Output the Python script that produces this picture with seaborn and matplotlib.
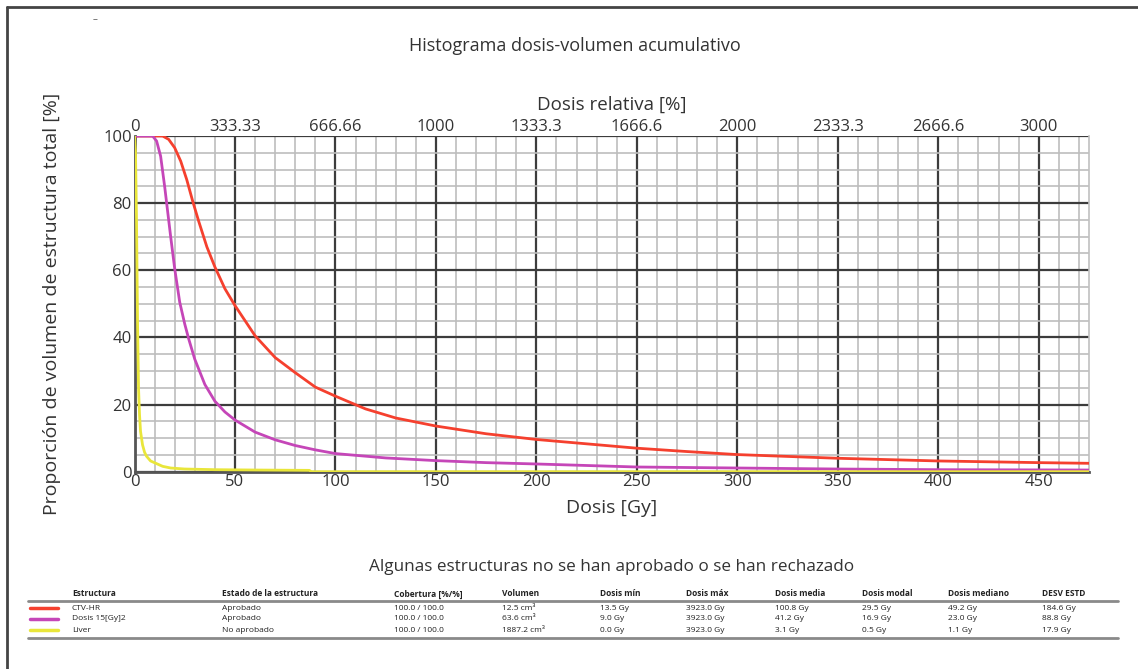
import matplotlib
matplotlib.use("Agg")
from matplotlib import pyplot as plt
from matplotlib.lines import Line2D
import numpy as np
import pandas as pd
import seaborn as sns

# --- curve data (dose in Gy, volume in %) ---
ctv_dose = [0, 14, 17, 20, 23, 26, 29, 32, 36, 40, 45, 50, 55, 60, 70, 80, 90, 100,
            115, 130, 150, 175, 200, 225, 250, 275, 300, 350, 400, 450, 475]
ctv_vol = [100, 100, 99, 96.5, 92.5, 87, 80.5, 74.5, 67, 61, 54.5, 49.5, 45, 40.5, 34,
           29.5, 25.2, 22.5, 18.7, 16, 13.6, 11.3, 9.6, 8.3, 7.0, 6.0, 5.1, 4.0, 3.2, 2.7, 2.5]

dosis_dose = [0, 9, 11, 13, 15, 16, 18, 20, 22.5, 25, 27, 30, 35, 40, 45, 50, 60, 70, 80,
              90, 100, 125, 150, 175, 200, 250, 300, 350, 400, 475]
dosis_vol = [100, 100, 98.5, 94, 85, 80, 70, 60.5, 50.5, 44, 39.5, 33.5, 26, 21, 17.8,
             15.4, 11.8, 9.5, 7.8, 6.5, 5.4, 4.1, 3.3, 2.7, 2.3, 1.4, 1.1, 0.8, 0.6, 0.5]

liver_dose = [0, 0.5, 1, 1.5, 2, 2.5, 3, 4, 5, 6, 8, 11, 14, 18, 25, 40, 60, 87, 88, 475]
liver_vol = [100, 95, 75, 45, 25, 17, 12, 8, 5.8, 4.6, 3.2, 2.4, 1.6, 1.1, 0.8, 0.6,
             0.5, 0.4, 0, 0]

structures = ["CTV-HR", "Dosis 15[Gy]2", "Liver"]
colors = ["#f5402e", "#c546b8", "#e9e63a"]

top_ticks = [0, 333.33, 666.66, 1000, 1333.3, 1666.6, 2000, 2333.3, 2666.6, 3000]
top_labels = ["0", "333.33", "666.66", "1000", "1333.3", "1666.6", "2000", "2333.3",
              "2666.6", "3000"]
ref_dose = 15.0  # Gy that equals 100 %

table_header = ["Estructura", "Estado de la estructura", "Cobertura [%/%]", "Volumen",
                "Dosis mín", "Dosis máx", "Dosis media", "Dosis modal", "Dosis mediano",
                "DESV ESTD"]
table_rows = [
    ["CTV-HR", "Aprobado", "100.0 / 100.0", "12.5 cm³", "13.5 Gy", "3923.0 Gy",
     "100.8 Gy", "29.5 Gy", "49.2 Gy", "184.6 Gy"],
    ["Dosis 15[Gy]2", "Aprobado", "100.0 / 100.0", "63.6 cm³", "9.0 Gy", "3923.0 Gy",
     "41.2 Gy", "16.9 Gy", "23.0 Gy", "88.8 Gy"],
    ["Liver", "No aprobado", "100.0 / 100.0", "1887.2 cm³", "0.0 Gy", "3923.0 Gy",
     "3.1 Gy", "0.5 Gy", "1.1 Gy", "17.9 Gy"],
]

sns.set_theme(style="white")
plt.rcParams["font.family"] = ["Open Sans", "DejaVu Sans"]

df = pd.concat([
    pd.DataFrame({"dose": ctv_dose, "vol": ctv_vol, "s": structures[0]}),
    pd.DataFrame({"dose": dosis_dose, "vol": dosis_vol, "s": structures[1]}),
    pd.DataFrame({"dose": liver_dose, "vol": liver_vol, "s": structures[2]}),
])

W, H = 1138, 669
fig = plt.figure(figsize=(W / 100, H / 100), dpi=100)
ax = fig.add_axes([134.5 / W, 1 - 471.7 / H, (1089 - 134.5) / W, (471.7 - 136) / H])

sns.lineplot(data=df, x="dose", y="vol", hue="s", palette=dict(zip(structures, colors)),
             linewidth=2, ax=ax, legend=False, sort=False, zorder=5)

ax.set_xlim(0, 475)
ax.set_ylim(0, 100)
ax.set_xticks(np.arange(0, 451, 50))
ax.set_xticks(np.arange(0, 476, 10), minor=True)
ax.set_yticks(np.arange(0, 101, 20))
ax.set_yticks(np.arange(0, 101, 5), minor=True)
ax.grid(which="minor", color="#bdbdbd", linewidth=1.2)
ax.grid(which="major", color="#3c3c3c", linewidth=1.6)
ax.set_axisbelow(True)
ax.tick_params(which="both", length=0, labelsize=12, colors="#333333", pad=2)
for side in ["left", "bottom"]:
    ax.spines[side].set_color("#555555")
    ax.spines[side].set_linewidth(2)
ax.spines["top"].set_visible(False)
ax.spines["right"].set_color("#c0c0c0")
ax.spines["right"].set_linewidth(1.2)

ax.set_xlabel("Dosis [Gy]", fontsize=14, color="#333333", labelpad=6)
ax.set_ylabel("Proporción de volumen de estructura total [%]", fontsize=14,
              color="#333333", labelpad=30)

sec = ax.secondary_xaxis("top", functions=(lambda g: g * 100 / ref_dose,
                                           lambda r: r * ref_dose / 100))
sec.set_xticks(top_ticks)
sec.set_xticklabels(top_labels)
sec.tick_params(length=0, labelsize=12, colors="#333333", pad=1)
sec.spines["top"].set_visible(False)
sec.set_xlabel("Dosis relativa [%]", fontsize=13.5, color="#333333", labelpad=6)

fig.text(575 / W, 1 - 46 / H, "Histograma dosis-volumen acumulativo", ha="center",
         va="center", fontsize=13, color="#333333")
fig.text(95 / W, 1 - 20 / H, "–", ha="center", va="center", fontsize=7, color="#555555")

# frame lines
fig.add_artist(Line2D([7 / W, 7 / W], [0, 1 - 7 / H], color="#444444", linewidth=2))
fig.add_artist(Line2D([7 / W, 1], [1 - 7 / H, 1 - 7 / H], color="#444444", linewidth=2))

# structure table
fig.text(612 / W, 1 - 567 / H, "Algunas estructuras no se han aprobado o se han rechazado",
         ha="center", va="center", fontsize=12.3, color="#333333")
col_x = [72, 222, 394, 502, 600, 686, 775, 862, 948, 1042]
for x, h in zip(col_x, table_header):
    fig.text(x / W, 1 - 594 / H, h, ha="left", va="center", fontsize=6,
             fontweight="bold", color="#222222")
fig.add_artist(Line2D([28 / W, 1118 / W], [1 - 601 / H] * 2, color="#8a8a8a", linewidth=2))
row_y = [608, 619, 630]
for r, (row, c) in enumerate(zip(table_rows, colors)):
    y = 1 - row_y[r] / H
    fig.add_artist(Line2D([30 / W, 58 / W], [y, y], color=c, linewidth=2.5))
    for x, v in zip(col_x, row):
        fig.text(x / W, y, v, ha="left", va="center", fontsize=6, color="#222222")
fig.add_artist(Line2D([28 / W, 1118 / W], [1 - 638 / H] * 2, color="#8a8a8a", linewidth=2))

fig.savefig("out.png", dpi=100)
